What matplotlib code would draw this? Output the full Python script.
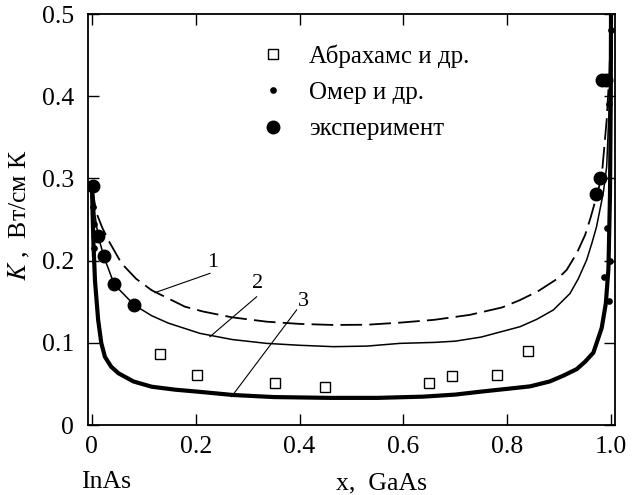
import matplotlib
matplotlib.use("Agg")
import matplotlib.pyplot as plt

plt.rcParams["font.family"] = ["Liberation Serif", "DejaVu Serif"]
plt.rcParams["mathtext.fontset"] = "stix"

# --------------------------------------------------
# Data
# --------------------------------------------------
# curve 1 (dashed)
x1 = [0.001, 0.004, 0.009, 0.02, 0.0315, 0.057, 0.085, 0.115, 0.179, 0.2145,
      0.27, 0.3366, 0.40, 0.465, 0.53, 0.593, 0.66, 0.728, 0.79, 0.8247,
      0.86, 0.898, 0.9145, 0.934, 0.950, 0.961, 0.972, 0.982, 0.9916, 0.997,
      1.0]
k1 = [0.29, 0.275, 0.2575, 0.24, 0.225, 0.1967, 0.178, 0.164, 0.144, 0.138,
      0.131, 0.1257, 0.123, 0.1217, 0.122, 0.1245, 0.128, 0.134, 0.143, 0.152,
      0.163, 0.1785, 0.1886, 0.209, 0.231, 0.253, 0.278, 0.302, 0.371, 0.43,
      0.50]

# curve 2 (thin solid)
x2 = [0.002, 0.006, 0.012, 0.023, 0.043, 0.0815, 0.115, 0.147, 0.208, 0.27,
      0.3366, 0.40, 0.465, 0.53, 0.593, 0.66, 0.70, 0.75, 0.8247, 0.857,
      0.889, 0.921, 0.937, 0.953, 0.963, 0.972, 0.985, 0.9916, 0.996, 0.999,
      1.0]
k2 = [0.29, 0.255, 0.23, 0.205, 0.171, 0.146, 0.133, 0.124, 0.1115, 0.104,
      0.0993, 0.097, 0.0953, 0.096, 0.0993, 0.1005, 0.102, 0.107, 0.1196, 0.1286,
      0.140, 0.160, 0.178, 0.2007, 0.221, 0.241, 0.282, 0.314, 0.38, 0.45,
      0.50]

# curve 3 (thick solid)
x3 = [0.0, 0.003, 0.006, 0.012, 0.018, 0.025, 0.037, 0.051, 0.08, 0.115,
      0.16, 0.205, 0.272, 0.35, 0.459, 0.55, 0.638, 0.70, 0.748, 0.80,
      0.844, 0.882, 0.908, 0.934, 0.95, 0.966, 0.982, 0.990, 0.995, 0.998,
      0.9995, 1.0]
k3 = [0.29, 0.22, 0.175, 0.128, 0.10, 0.083, 0.071, 0.063, 0.053, 0.0466,
      0.043, 0.0405, 0.0365, 0.034, 0.033, 0.033, 0.0345, 0.037, 0.0405, 0.044,
      0.047, 0.053, 0.060, 0.068, 0.077, 0.088, 0.118, 0.148, 0.19, 0.28,
      0.40, 0.50]

# Abrahams et al. (squares)
x_abr = [0.131, 0.2017, 0.3526, 0.449, 0.65, 0.693, 0.781, 0.841]
k_abr = [0.086, 0.0608, 0.0515, 0.0466, 0.0515, 0.0596, 0.0608, 0.0904]

# Omer et al. (small dots)
x_omer = [0.003, 0.005, 0.004, 0.9865, 0.9916, 0.996, 0.998, 0.997, 0.999]
k_omer = [0.265, 0.245, 0.215, 0.18, 0.24, 0.151, 0.20, 0.39, 0.48]

# experiment (big dots)
x_exp = [0.0025, 0.012, 0.023, 0.043, 0.0815, 0.9705, 0.979, 0.983, 0.990]
k_exp = [0.291, 0.230, 0.205, 0.171, 0.146, 0.281, 0.300, 0.42, 0.42]

# curve numbers and their leader lines
curve_labels = ["1", "2", "3"]
label_x = [0.233, 0.320, 0.407]
label_y = [0.198, 0.172, 0.150]
leader_x = [[0.1214, 0.2274], [0.2274, 0.3173], [0.269, 0.3944]]
leader_y = [[0.161, 0.1845], [0.1074, 0.156], [0.0345, 0.140]]

xticks = [0, 0.2, 0.4, 0.6, 0.8, 1.0]
xticklabels = ["0", "0.2", "0.4", "0.6", "0.8", "1.0"]
yticks = [0, 0.1, 0.2, 0.3, 0.4, 0.5]
yticklabels = ["0", "0.1", "0.2", "0.3", "0.4", "0.5"]

# --------------------------------------------------
# Figure
# --------------------------------------------------
fig = plt.figure(figsize=(6.37, 4.95), dpi=100)
ax = fig.add_axes([0.138, 0.1414, 0.8275, 0.8303])

ax.plot(x1, k1, color="black", lw=1.3, dashes=(12, 4))
ax.plot(x2, k2, color="black", lw=1.1)
ax.plot(x3, k3, color="black", lw=3.0, solid_capstyle="butt")

ax.plot(x_abr, k_abr, ls="none", marker="s", ms=6.5, mfc="white",
        mec="black", mew=1.0, label="Абрахамс и др.")
ax.plot(x_omer, k_omer, ls="none", marker="o", ms=3.8, color="black",
        label="Омер и др.")
ax.plot(x_exp, k_exp, ls="none", marker="o", ms=9, color="black",
        label="эксперимент")

for lab, tx, ty, lx, ly in zip(curve_labels, label_x, label_y,
                               leader_x, leader_y):
    ax.plot(lx, ly, color="black", lw=0.8)
    ax.text(tx, ty, lab, fontsize=16, ha="center", va="center")

ax.legend(loc="upper left", bbox_to_anchor=(0.327, 0.926), frameon=False,
          fontsize=18, handlelength=1.0, handletextpad=0.94, labelspacing=0.55,
          borderpad=0, borderaxespad=0, numpoints=1)

ax.set_xlim(-0.0077, 1.0077)
ax.set_ylim(0, 0.5)
ax.set_xticks(xticks)
ax.set_xticklabels(xticklabels)
ax.set_yticks(yticks)
ax.set_yticklabels(yticklabels)
ax.tick_params(direction="in", length=8, width=1.0, top=True, right=True,
               labelsize=18.5, pad=8)
ax.tick_params(axis="y", pad=10)
for sp in ax.spines.values():
    sp.set_linewidth(1.3)

fig.text(19 / 637, 1 - 215 / 495, "$K$ ,  Вт/см К", rotation=90,
         ha="center", va="center", fontsize=18.5)
fig.text(106 / 637, 1 - 482 / 495, "InAs", ha="center", va="center",
         fontsize=18.5)
fig.text(381 / 637, 1 - 483 / 495, "x,  GaAs", ha="center", va="center",
         fontsize=18.5)

fig.savefig("out.png", dpi=100)
plt.close(fig)
